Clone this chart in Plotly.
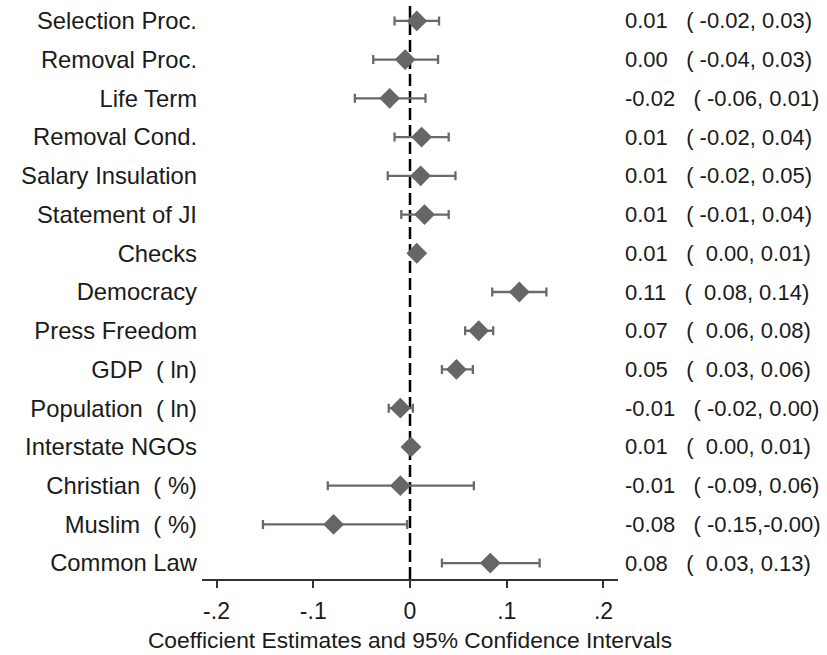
import plotly.graph_objects as go

NB = "\u00a0"

labels = [
    "Selection Proc.", "Removal Proc.", "Life Term", "Removal Cond.",
    "Salary Insulation", "Statement of JI", "Checks", "Democracy",
    "Press Freedom", f"GDP{NB}{NB}({NB}ln)", f"Population{NB}{NB}({NB}ln)",
    "Interstate NGOs", f"Christian{NB}{NB}({NB}%)", f"Muslim{NB}{NB}({NB}%)",
    "Common Law",
]
estimates = [0.007, -0.005, -0.021, 0.012, 0.011, 0.015, 0.007, 0.113,
             0.071, 0.048, -0.010, 0.001, -0.010, -0.079, 0.083]
ci_low = [-0.016, -0.038, -0.057, -0.016, -0.023, -0.009, 0.004, 0.085,
          0.057, 0.033, -0.022, 0.000, -0.085, -0.152, 0.033]
ci_high = [0.030, 0.029, 0.016, 0.040, 0.047, 0.040, 0.010, 0.141,
           0.086, 0.065, 0.003, 0.002, 0.066, -0.003, 0.134]

est_text = ["0.01", "0.00", "-0.02", "0.01", "0.01", "0.01", "0.01", "0.11",
            "0.07", "0.05", "-0.01", "0.01", "-0.01", "-0.08", "0.08"]
ci_text = ["(-0.02, 0.03)", "(-0.04, 0.03)", "(-0.06, 0.01)", "(-0.02, 0.04)",
           "(-0.02, 0.05)", "(-0.01, 0.04)", "( 0.00, 0.01)", "( 0.08, 0.14)",
           "( 0.06, 0.08)", "( 0.03, 0.06)", "(-0.02, 0.00)", "( 0.00, 0.01)",
           "(-0.09, 0.06)", "(-0.15,-0.00)", "( 0.03, 0.13)"]

x_tickvals = [-0.2, -0.1, 0, 0.1, 0.2]
x_ticktext = ["-.2", "-.1", "0", ".1", ".2"]

FONT = "Liberation Sans, Arial, sans-serif"
TXT = "#1a1a1a"
GRAY = "#666666"

rows = list(range(len(labels)))

fig = go.Figure()
fig.add_trace(go.Scatter(
    x=estimates, y=rows, mode="markers",
    marker=dict(symbol="diamond", size=16, color=GRAY, line=dict(width=0)),
    error_x=dict(type="data", symmetric=False,
                 array=[h - e for h, e in zip(ci_high, estimates)],
                 arrayminus=[e - l for e, l in zip(estimates, ci_low)],
                 color="#6a6a6a", thickness=2.3, width=4.5),
    showlegend=False, hoverinfo="skip",
))

# dashed zero line
fig.add_shape(type="line", xref="x", yref="paper", x0=0, x1=0, y0=0, y1=1,
              line=dict(color="black", width=2.5, dash="12px,5px"), layer="below")

# right-side text
for r, et, ct in zip(rows, est_text, ci_text):
    gap = NB * 3
    ct2 = ct.replace("(", "(" + NB).replace(" ", NB)
    fig.add_annotation(x=1, xref="paper", y=r, yref="y", xanchor="left",
                       xshift=5, text=et + gap + ct2, showarrow=False,
                       font=dict(family=FONT, size=22, color=TXT))

fig.update_layout(
    width=827, height=655,
    margin=dict(l=202, r=209, t=5, b=76),
    paper_bgcolor="white", plot_bgcolor="white",
    font=dict(family=FONT, size=22, color=TXT),
    xaxis=dict(range=[-0.215, 0.215], tickvals=x_tickvals, ticktext=x_ticktext,
               showline=True, linecolor="#333333", linewidth=1.5,
               ticks="outside", ticklen=7, tickwidth=1.5, tickcolor="#333333",
               showgrid=False, zeroline=False, automargin=False,
               ticklabelstandoff=4,
               title=dict(text="Coefficient Estimates and 95% Confidence Intervals",
                          font=dict(size=22.8), standoff=9),
               tickfont=dict(size=23)),
    yaxis=dict(range=[len(labels) - 1 + 0.41, -0.41], tickvals=rows, ticktext=labels,
               showline=False, showgrid=False, zeroline=False, ticks="",
               automargin=False, ticklabelstandoff=4, tickfont=dict(size=23.8)),
)

fig.write_html("out.html", config={"displayModeBar": False},
               post_script="document.body.style.margin='0';")
